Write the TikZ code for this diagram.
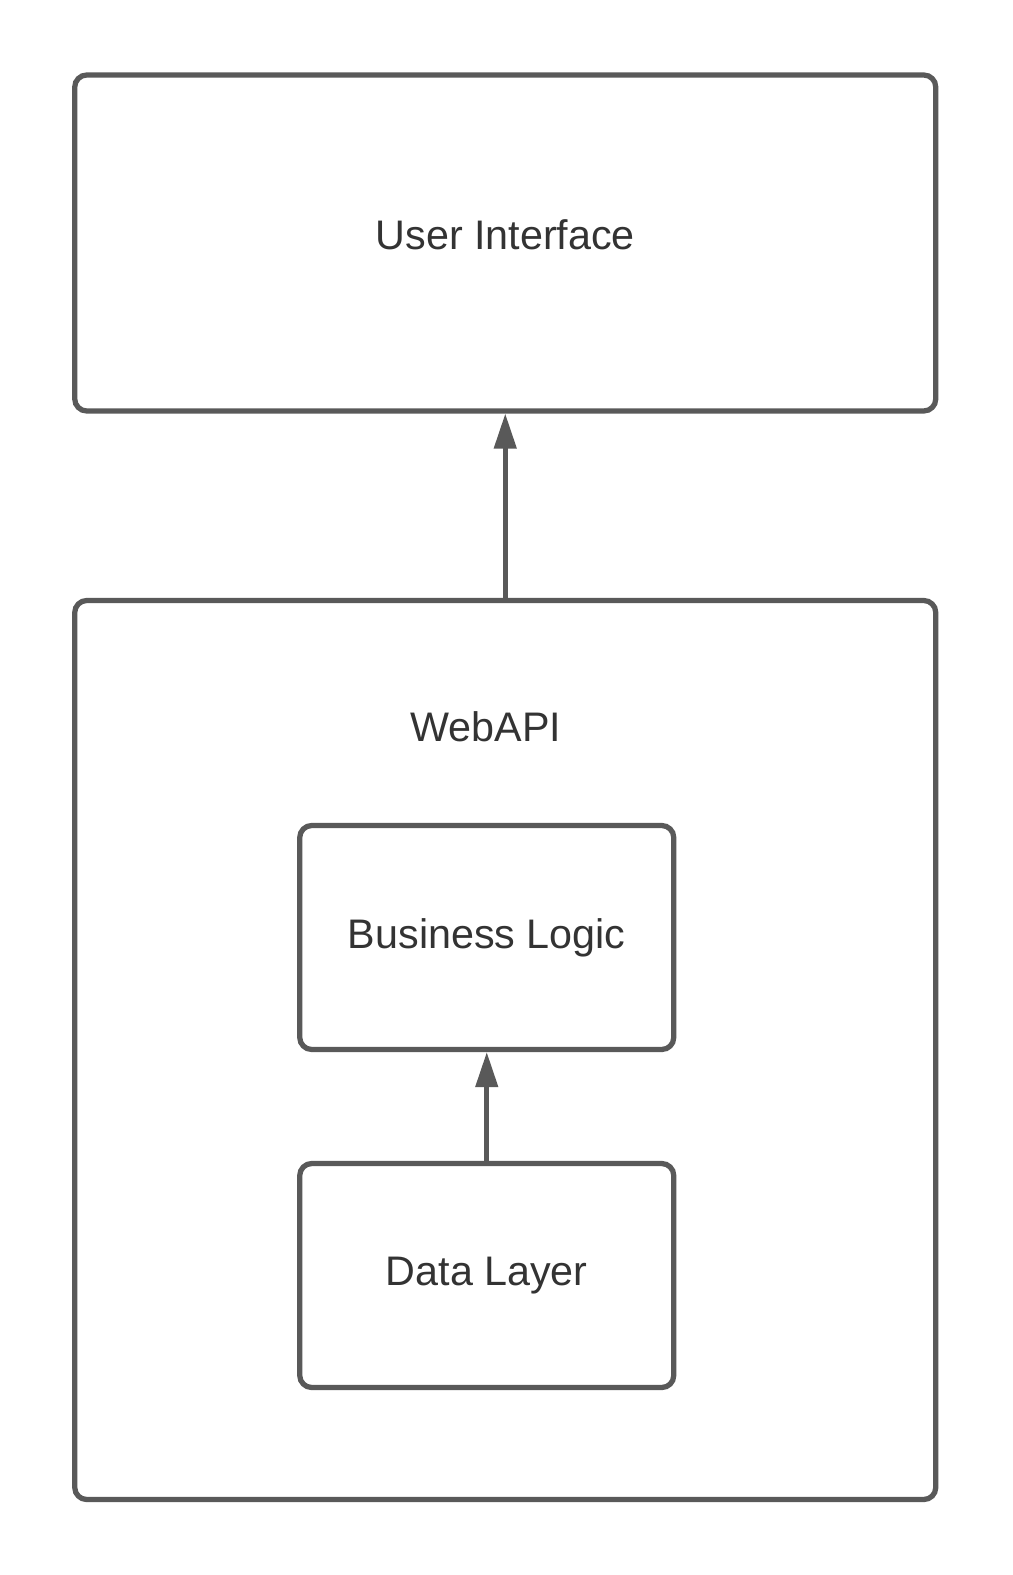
\documentclass[tikz,border=0pt]{standalone}
\usepackage{fontspec}
\setmainfont{Liberation Sans}
\usetikzlibrary{arrows.meta}
\definecolor{linegray}{HTML}{595959}
\definecolor{textgray}{HTML}{333333}
\newcommand{\px}{0.02cm}

\begin{document}
\begin{tikzpicture}[layer/.style={draw=linegray, rectangle, rounded corners=0.24cm, line width=3pt, inner sep=0pt, text=textgray, font=\fontsize{23.5pt}{28pt}\selectfont},
    title/.style={text=textgray, inner sep=0pt, font=\fontsize{23.5pt}{28pt}\selectfont},
    flow/.style={draw=linegray, line width=2.6pt, -{Triangle[width=0.44cm,length=0.7cm]}}]
    \useasboundingbox (0,0) rectangle (1013*\px,-1575*\px);

    % Top layer
    \node[layer, minimum width=861*\px, minimum height=336*\px, text depth=16*\px] (ui) at (505.25*\px,-243*\px) {User Interface};

    % WebAPI with its inner layers
    \node[layer, minimum width=861*\px, minimum height=899*\px] (webapi) at (505.25*\px,-1050*\px) {};
    \node[title] (webapi-title) at (486*\px,-727*\px) {WebAPI};
    \node[layer, minimum width=374*\px, minimum height=224*\px] (logic) at (486.75*\px,-937.5*\px) {Business Logic};
    \node[layer, minimum width=374*\px, minimum height=224*\px] (data) at (486.75*\px,-1275.5*\px) {Data Layer};

    \draw[flow] (webapi.north) -- (ui.south);
    \draw[flow] (data.north) -- (logic.south);

\end{tikzpicture}
\end{document}
